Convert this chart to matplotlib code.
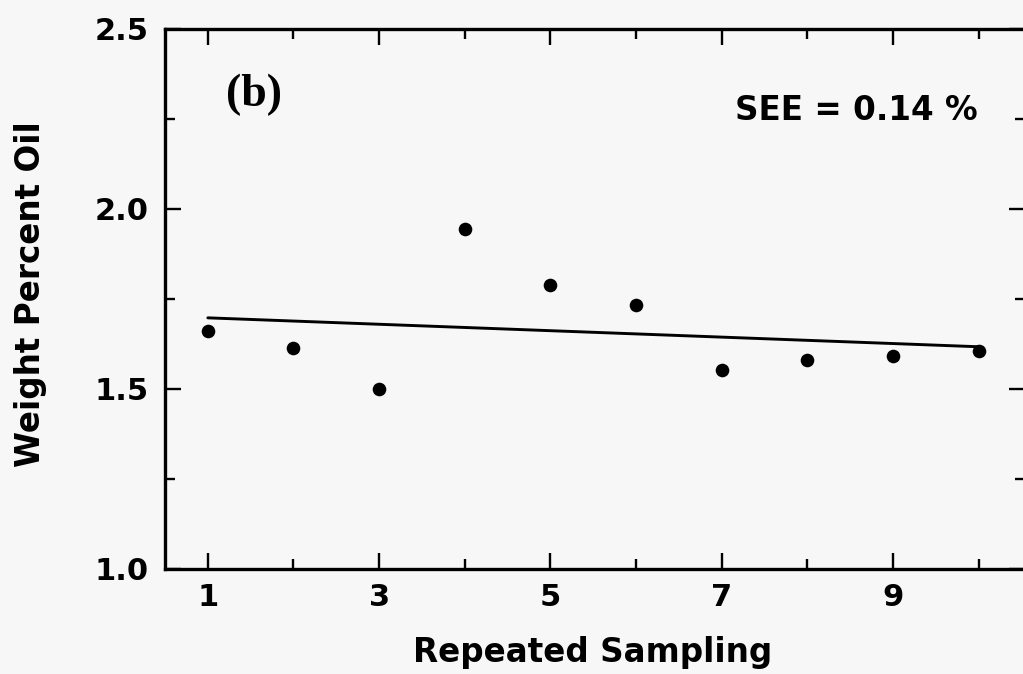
import numpy as np
import matplotlib
matplotlib.use("Agg")
import matplotlib.pyplot as plt
from matplotlib.ticker import FixedLocator

# Repeated sampling measurements (weight percent oil)
sample_no = [1, 2, 3, 4, 5, 6, 7, 8, 9, 10]
oil_pct = [1.66, 1.615, 1.50, 1.945, 1.79, 1.733, 1.553, 1.58, 1.593, 1.606]

x_major = [1, 3, 5, 7, 9]
x_minor = [2, 4, 6, 8, 10]
y_major = [1.0, 1.5, 2.0, 2.5]
y_minor = [1.25, 1.75, 2.25]
panel_label = "(b)"
see_label = "SEE = 0.14 %"

W, H = 1023, 674
bg = "#f7f7f7"
fig = plt.figure(figsize=(W / 100, H / 100), dpi=100, facecolor=bg)

# axes box in pixels: left 165, right 1025 (just past the edge), top 29, bottom 569
ax = fig.add_axes([165 / W, 1 - 569 / H, 860 / W, 540 / H], facecolor=bg)
ax.set_xlim(0.5, 10.54)
ax.set_ylim(1.0, 2.5)

# least-squares trend line across the samples
coef = np.polyfit(sample_no, oil_pct, 1)
xl = np.array([sample_no[0], sample_no[-1]])
ax.plot(xl, np.polyval(coef, xl), color="black", lw=2.1, solid_capstyle="round")

ax.plot(sample_no, oil_pct, "o", color="black", markersize=9.8, markeredgewidth=0)

for s in ax.spines.values():
    s.set_linewidth(2.4)
    s.set_color("black")

ax.xaxis.set_major_locator(FixedLocator(x_major))
ax.xaxis.set_minor_locator(FixedLocator(x_minor))
ax.yaxis.set_major_locator(FixedLocator(y_major))
ax.yaxis.set_minor_locator(FixedLocator(y_minor))
ax.set_xticklabels([str(v) for v in x_major])
ax.set_yticklabels([f"{v:.1f}" for v in y_major])

ax.tick_params(which="both", direction="in", top=True, right=True,
               width=1.7, color="black")
ax.tick_params(which="major", length=11.5)
ax.tick_params(which="minor", length=7)
ax.tick_params(axis="x", which="major", pad=10, labelsize=22)
ax.tick_params(axis="y", which="major", pad=12, labelsize=22)
for lab in ax.get_xticklabels() + ax.get_yticklabels():
    lab.set_fontweight("bold")

fig.text(593 / W, 1 - 662 / H, "Repeated Sampling", ha="center", va="baseline",
         fontsize=23.5, fontweight="bold")
fig.text(31 / W, 1 - 294 / H, "Weight Percent Oil", ha="center", va="center",
         rotation=90, fontsize=23.5, fontweight="bold")

fig.text(226 / W, 1 - 95 / H, panel_label, ha="left", va="center",
         fontsize=33, fontweight="bold", family="Liberation Serif")
fig.text(735 / W, 1 - 120 / H, see_label, ha="left", va="baseline",
         fontsize=23.5, fontweight="bold")

fig.savefig("out.png", dpi=100, facecolor=bg)
